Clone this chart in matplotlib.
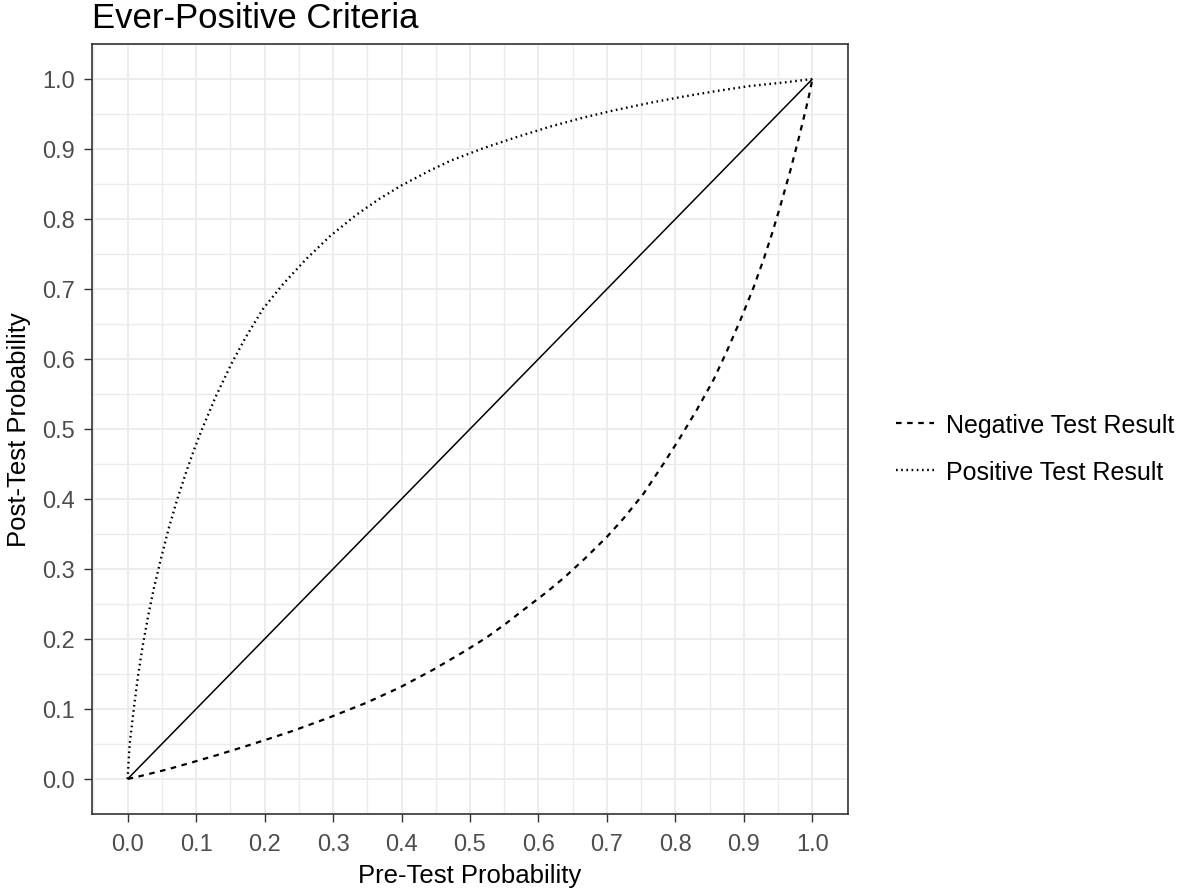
import numpy as np
import matplotlib
matplotlib.use("Agg")
import matplotlib.pyplot as plt
from matplotlib.ticker import MultipleLocator, FormatStrFormatter

plt.rcParams["font.family"] = ["Liberation Sans", "DejaVu Sans"]

# values
pre_pos = [0.0, 0.003, 0.009, 0.015, 0.022, 0.03, 0.038, 0.048, 0.06, 0.072, 0.086, 0.098,
           0.11, 0.129, 0.152, 0.173, 0.198, 0.227, 0.261, 0.295, 0.334, 0.368, 0.40, 0.441,
           0.471, 0.519, 0.568, 0.617, 0.666, 0.714, 0.763, 0.812, 0.861, 0.909, 0.958, 1.0]
post_pos = [0.0, 0.05, 0.10, 0.146, 0.19, 0.233, 0.271, 0.312, 0.358, 0.398, 0.44, 0.473,
            0.503, 0.547, 0.594, 0.632, 0.672, 0.707, 0.743, 0.775, 0.806, 0.829, 0.848, 0.869,
            0.883, 0.901, 0.917, 0.932, 0.945, 0.956, 0.966, 0.975, 0.983, 0.99, 0.995, 1.0]

pre_neg = [0.0, 0.018, 0.059, 0.095, 0.13, 0.173, 0.208, 0.242, 0.295, 0.349, 0.398, 0.446,
           0.493, 0.524, 0.551, 0.58, 0.612, 0.639, 0.67, 0.70, 0.724, 0.753, 0.783, 0.807,
           0.831, 0.856, 0.875, 0.895, 0.914, 0.929, 0.941, 0.953, 0.968, 0.981, 0.99, 0.995, 1.0]
post_neg = [0.0, 0.004, 0.014, 0.024, 0.034, 0.047, 0.058, 0.069, 0.088, 0.109, 0.131, 0.156,
            0.183, 0.202, 0.221, 0.243, 0.267, 0.289, 0.317, 0.346, 0.372, 0.407, 0.451, 0.488,
            0.527, 0.571, 0.611, 0.656, 0.702, 0.743, 0.779, 0.818, 0.87, 0.919, 0.955, 0.976, 1.0]

ref_x = [0.0, 1.0]
ref_y = [0.0, 1.0]

fig = plt.figure(figsize=(11.81, 8.95), dpi=100)
ax = fig.add_axes([92 / 1181, 1 - 815 / 895, 756 / 1181, 770 / 895])

ax.plot(ref_x, ref_y, color="black", linewidth=1.1, solid_capstyle="butt")
ax.plot(pre_neg, post_neg, color="black", linewidth=1.6, linestyle=(0, (2.5, 2.5)),
        label="Negative Test Result")
ax.plot(pre_pos, post_pos, color="black", linewidth=1.7, linestyle=(0, (0.7, 1.5)),
        label="Positive Test Result")

ax.set_xlim(-0.052, 1.052)
ax.set_ylim(-0.05, 1.05)
ax.xaxis.set_major_locator(MultipleLocator(0.1))
ax.yaxis.set_major_locator(MultipleLocator(0.1))
ax.xaxis.set_minor_locator(MultipleLocator(0.05))
ax.yaxis.set_minor_locator(MultipleLocator(0.05))
ax.xaxis.set_major_formatter(FormatStrFormatter("%.1f"))
ax.yaxis.set_major_formatter(FormatStrFormatter("%.1f"))
ax.grid(which="major", color="#EBEBEB", linewidth=1.3)
ax.grid(which="minor", color="#EBEBEB", linewidth=1.0)
ax.set_axisbelow(True)
ax.tick_params(which="minor", length=0)
ax.tick_params(which="major", length=5.5, width=1, color="#333333",
               labelcolor="#4D4D4D", labelsize=17)
ax.tick_params(axis="x", pad=8)
ax.tick_params(axis="y", pad=7)
for s in ax.spines.values():
    s.set_color("#333333")
    s.set_linewidth(1.2)

ax.set_xlabel("Pre-Test Probability", fontsize=18.5, labelpad=6)
ax.set_ylabel("Post-Test Probability", fontsize=18.5, labelpad=8)
ax.set_title("Ever-Positive Criteria", fontsize=25, loc="left", pad=12)

ax.legend(loc="center left", bbox_to_anchor=(1.064, 0.4747), frameon=False, fontsize=18,
          handlelength=1.5, handletextpad=0.5, labelspacing=0.9,
          borderaxespad=0, borderpad=0)

fig.savefig("out.png", dpi=100)
